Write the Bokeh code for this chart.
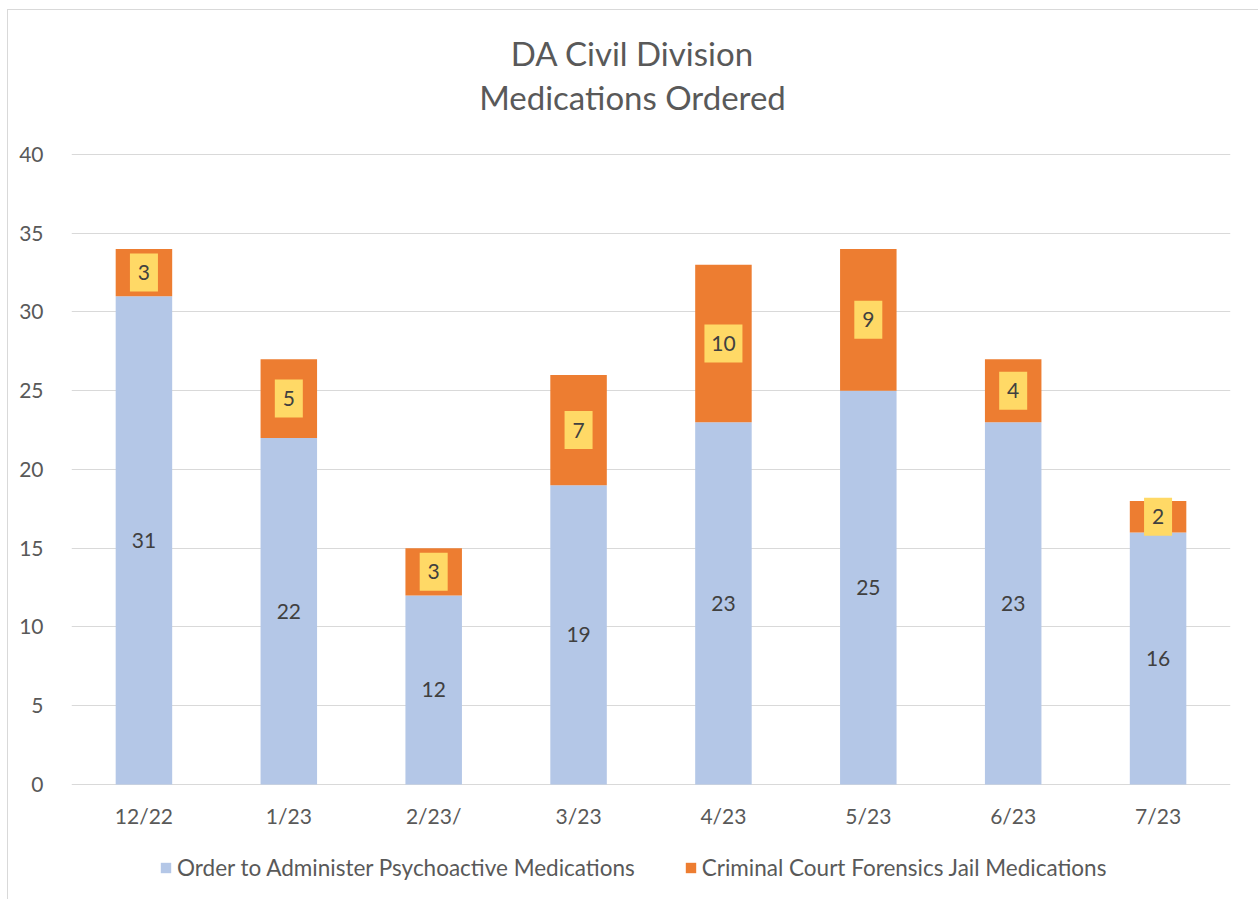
from bokeh.plotting import figure
from bokeh.models import (ColumnDataSource, LabelSet, Label, Legend, LegendItem,
                          FixedTicker, Range1d)
from bokeh.core.properties import value
from bokeh.embed import file_html
from bokeh.resources import INLINE

# ---- data ----
months = ["12/22", "1/23", "2/23/", "3/23", "4/23", "5/23", "6/23", "7/23"]
psychoactive = [31, 22, 12, 19, 23, 25, 23, 16]
forensics = [3, 5, 3, 7, 10, 9, 4, 2]
series_names = ["Order to Administer Psychoactive Medications",
                "Criminal Court Forensics Jail Medications"]
y_ticks = [0, 5, 10, 15, 20, 25, 30, 35, 40]
title_lines = ["DA Civil Division", "Medications Ordered"]

# ---- style ----
FONT = "Lato"
TXT = "#595959"
LBL = "#404040"
BLUE = "#B4C7E7"
ORANGE = "#ED7D31"
YELLOW = "#FFD966"
GRID = "#D9D9D9"

src = ColumnDataSource(dict(
    month=months,
    psy=psychoactive,
    forn=forensics,
    psy_mid=[v / 2 for v in psychoactive],
    forn_mid=[a + b / 2 for a, b in zip(psychoactive, forensics)],
    psy_txt=[str(v) for v in psychoactive],
    forn_txt=[str(v) for v in forensics],
    box_w=[18 + 10 * len(str(v)) for v in forensics],
    zero=[0] * len(months),
))

# The plot frame is extended above 40 and below 0 so that the title,
# category labels and legend sit inside it (15.75 px per unit).
p = figure(x_range=months, y_range=Range1d(-7.175, 49.016), width=1250, height=889,
           frame_width=1159, frame_height=885, x_axis_location=None,
           output_backend="svg", toolbar_location=None, title_location=None,
           min_border_left=63, min_border_right=28, min_border_top=2,
           min_border_bottom=2)
p.styles = {"margin-left": "7px", "margin-top": "9px",
            "border-left": "1px solid #D9D9D9", "border-top": "1px solid #D9D9D9"}

# two-line title, positioned relative to the plot frame
for txt, ty in ((title_lines[0], 845), (title_lines[1], 801)):
    p.add_layout(Label(x=561, y=ty, x_units="screen", y_units="screen",
                       text=txt, text_align="center", text_baseline="middle",
                       text_font=FONT, text_font_size="33px", text_color=TXT))

rs = p.vbar_stack(["psy", "forn"], x="month", width=0.39, color=[BLUE, ORANGE],
                  line_color=None, source=src)

# yellow boxes behind orange labels
p.rect(x="month", y="forn_mid", width="box_w", height=38,
       width_units="screen", height_units="screen", fill_color=YELLOW,
       line_color=None, source=src)

for ycol, tcol in (("psy_mid", "psy_txt"), ("forn_mid", "forn_txt")):
    p.add_layout(LabelSet(x="month", y=ycol, text=tcol, source=src,
                          text_align="center", text_baseline="middle",
                          text_font=value(FONT), text_font_size="21px",
                          text_color=LBL))

# category labels under the zero line
p.text(x="month", y="zero", text="month", source=src, y_offset=31,
       text_align="center", text_baseline="middle", text_font=value(FONT),
       text_font_size="21px", text_color=TXT)

# y axis
p.yaxis.ticker = FixedTicker(ticks=y_ticks)
p.yaxis.axis_line_color = None
p.yaxis.major_tick_line_color = None
p.yaxis.minor_tick_line_color = None
p.yaxis.major_label_standoff = 22
p.yaxis.major_label_text_font = FONT
p.yaxis.major_label_text_font_size = "21px"
p.yaxis.major_label_text_color = TXT

p.xgrid.grid_line_color = None
p.ygrid.grid_line_color = GRID
p.ygrid.grid_line_width = 1
p.outline_line_color = None
p.x_range.range_padding = 0

legend = Legend(items=[LegendItem(label=series_names[0], renderers=[rs[0]]),
                       LegendItem(label=series_names[1], renderers=[rs[1]])],
                orientation="horizontal", location=(88, 16),
                border_line_color=None, background_fill_alpha=0,
                label_text_font=FONT, label_text_font_size="22.5px",
                label_text_color=TXT, glyph_width=13, glyph_height=13,
                label_standoff=5, spacing=49, margin=0, padding=0)
p.add_layout(legend, "center")

open("out.html", "w").write(file_html(p, INLINE))
